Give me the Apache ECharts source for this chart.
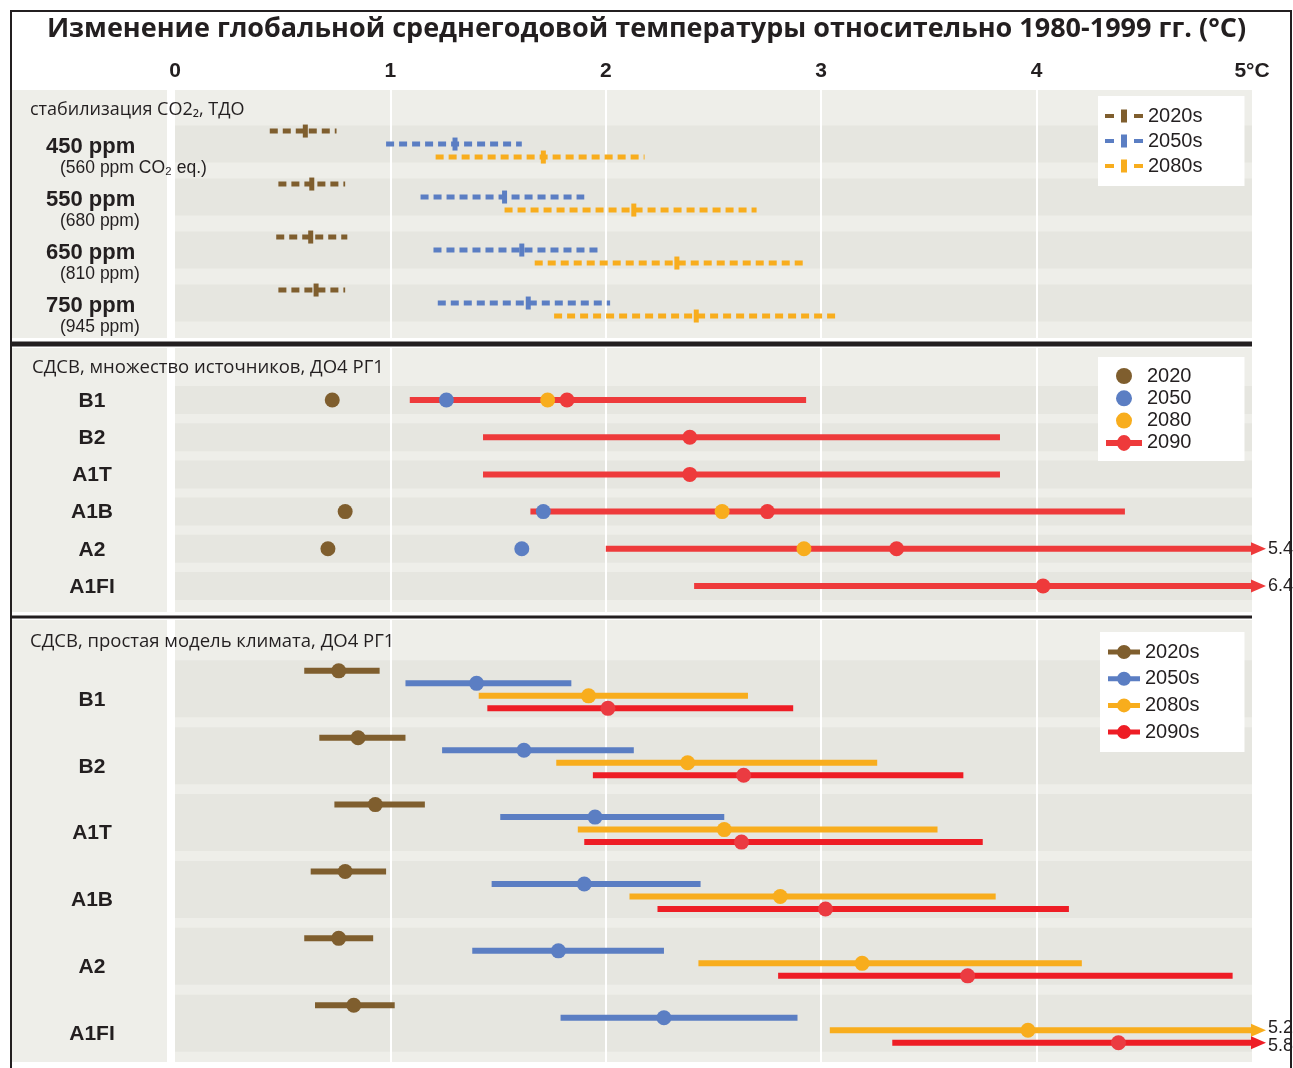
<!DOCTYPE html>
<html><head><meta charset="utf-8">
<script src="https://cdn.jsdelivr.net/npm/echarts@6/dist/echarts.min.js"></script>
<style>html,body{margin:0;padding:0;background:#fff}#c{width:1293px;height:1068px}</style>
</head><body><div id="c"></div>
<script>
// ================= DATA =================
const titleText = 'Изменение глобальной среднегодовой температуры относительно 1980-1999 гг. (°C)';
const xTickLabels = ['0', '1', '2', '3', '4', '5°C'];
const sectionTitles = ['стабилизация CO2₂, ТДО', 'СДСВ, множество источников, ДО4 РГ1', 'СДСВ, простая модель климата, ДО4 РГ1'];

// Section 1: stabilisation scenarios  [low, best, high]
const stabRows = ['450 ppm', '550 ppm', '650 ppm', '750 ppm'];
const stabSubs = ['(560 ppm CO₂ eq.)', '(680 ppm)', '(810 ppm)', '(945 ppm)'];
const stabNames = ['2020s', '2050s', '2080s'];
const stab2020s = [[0.44, 0.605, 0.75], [0.48, 0.635, 0.79], [0.47, 0.63, 0.80], [0.48, 0.655, 0.79]];
const stab2050s = [[0.98, 1.30, 1.61], [1.14, 1.53, 1.90], [1.20, 1.61, 1.98], [1.22, 1.64, 2.02]];
const stab2080s = [[1.21, 1.71, 2.18], [1.53, 2.13, 2.70], [1.67, 2.33, 2.93], [1.76, 2.42, 3.07]];

// Section 2: SRES, multi-model (AR4 WG1)
const multiRows = ['B1', 'B2', 'A1T', 'A1B', 'A2', 'A1FI'];
const multiNames = ['2020', '2050', '2080', '2090'];
const multi2020 = [0.73, null, null, 0.79, 0.71, null];
const multi2050 = [1.26, null, null, 1.71, 1.61, null];
const multi2080 = [1.73, null, null, 2.54, 2.92, null];
const multi2090 = [[1.09, 1.82, 2.93], [1.43, 2.39, 3.83], [1.43, 2.39, 3.83], [1.65, 2.75, 4.41], [2.00, 3.35, 5.4], [2.41, 4.03, 6.4]];

// Section 3: SRES, simple climate model (AR4 WG1)
const simpleRows = ['B1', 'B2', 'A1T', 'A1B', 'A2', 'A1FI'];
const simpleNames = ['2020s', '2050s', '2080s', '2090s'];
const simple2020s = [[0.60, 0.76, 0.95], [0.67, 0.85, 1.07], [0.74, 0.93, 1.16], [0.63, 0.79, 0.98], [0.60, 0.76, 0.92], [0.65, 0.83, 1.02]];
const simple2050s = [[1.07, 1.40, 1.84], [1.24, 1.62, 2.13], [1.51, 1.95, 2.55], [1.47, 1.90, 2.44], [1.38, 1.78, 2.27], [1.79, 2.27, 2.89]];
const simple2080s = [[1.41, 1.92, 2.66], [1.77, 2.38, 3.26], [1.87, 2.55, 3.54], [2.11, 2.81, 3.81], [2.43, 3.19, 4.21], [3.04, 3.96, 5.2]];
const simple2090s = [[1.45, 2.01, 2.87], [1.94, 2.64, 3.66], [1.90, 2.63, 3.75], [2.24, 3.02, 4.15], [2.80, 3.68, 4.91], [3.33, 4.38, 5.8]];

// ================= STYLE =================
const C = {brown: '#7f5e2e', blue: '#5b7ec3', orange: '#f8ad1d', red2: '#ee3a3b', red3: '#ee1d25', red3dot: '#eb3b41',
  ink: '#231f20', light: '#eeeee9', dark: '#e6e6e0'};
const XMAX = 5;
const FONT_B = '"Liberation Sans", Arial, sans-serif';
const FONT_T = '"Open Sans", "Noto Sans", sans-serif';

function rangeSeries(o) {
  return {
    type: 'custom', name: o.name, xAxisIndex: o.g, yAxisIndex: o.g, z: 5, silent: true,
    itemStyle: {color: o.color}, encode: {x: [1, 2, 3], y: 0},
    data: o.data,
    renderItem: function (params, api) {
      const row = api.value(0), lo = api.value(1), mid = api.value(2), hi = api.value(3);
      const cy = api.coord([0, row])[1] + o.dy;
      const ch = [];
      const ok = v => v != null && !isNaN(v);
      if (ok(lo) && ok(hi)) {
        const x0 = api.coord([lo, row])[0];
        const x1 = api.coord([Math.min(hi, XMAX), row])[0];
        ch.push({type: 'line', shape: {x1: x0, y1: cy, x2: x1, y2: cy},
          style: {stroke: o.color, lineWidth: o.lw, lineDash: o.dash || null}});
        if (hi > XMAX) {
          ch.push({type: 'polygon', shape: {points: [[x1 - 1, cy - 6.5], [x1 + 14, cy], [x1 - 1, cy + 6.5]]}, style: {fill: o.color}});
          ch.push({type: 'text', x: x1 + 16, y: cy + (o.labelDy || 0),
            style: {text: String(hi), fill: C.ink, font: '18px ' + FONT_B, align: 'left', verticalAlign: 'middle'}});
        }
      }
      if (ok(mid)) {
        const xm = api.coord([mid, row])[0];
        if (o.marker === 'bar') ch.push({type: 'rect', shape: {x: xm - 2.5, y: cy - 6.5, width: 5, height: 13}, style: {fill: o.color}});
        else ch.push({type: 'circle', shape: {cx: xm, cy: cy, r: 7.5}, style: {fill: o.dotColor || o.color}});
      }
      return {type: 'group', children: ch};
    }
  };
}
function toRows(arr) { return arr.map((d, i) => [i, d[0], d[1], d[2]]); }
function toDots(arr) { return arr.map((v, i) => [i, null, v, null]).filter(d => d[2] != null); }

function bandSeries(g, n, half) {
  const data = [];
  for (let i = 0; i < n; i++) data.push([0, i]);
  return {type: 'custom', xAxisIndex: g, yAxisIndex: g, z: 1, silent: true, encode: {x: 0, y: 1}, data: data,
    renderItem: function (params, api) {
      const cy = api.coord([0, api.value(1)])[1];
      const cs = params.coordSys;
      return {type: 'rect', shape: {x: cs.x, y: cy - half, width: cs.width, height: half * 2}, style: {fill: C.dark}};
    }};
}
function labelSeries(g, names, subs, opts) {
  return {type: 'custom', xAxisIndex: g, yAxisIndex: g, z: 6, silent: true, encode: {x: 0, y: 1},
    data: names.map((n, i) => [0, i]),
    renderItem: function (params, api) {
      const cy = api.coord([0, api.value(1)])[1];
      const i = params.dataIndex;
      const ch = [{type: 'text', x: opts.x, y: cy + opts.dy,
        style: {text: names[i], fill: C.ink, font: 'bold ' + opts.size + 'px ' + FONT_B, align: opts.align, verticalAlign: 'middle'}}];
      if (subs) ch.push({type: 'text', x: opts.x + 14, y: cy + opts.dy + 22,
        style: {text: subs[i], fill: C.ink, font: '17.5px ' + FONT_B, align: 'left', verticalAlign: 'middle'}});
      return {type: 'group', children: ch};
    }};
}

const grids = [
  {left: 175, right: 41, top: 90, height: 248, ymin: -1.02, ymax: 3.66},
  {left: 175, right: 41, top: 348, height: 264, ymin: -1.40, ymax: 5.70},
  {left: 175, right: 41, top: 620, height: 442, ymin: -1.03, ymax: 5.58}
];

const series = [
  bandSeries(0, stabRows.length, 18.5), bandSeries(1, multiRows.length, 14), bandSeries(2, simpleRows.length, 28.5),
  labelSeries(0, stabRows, stabSubs, {x: 46, dy: 2.5, align: 'left', size: 22}),
  labelSeries(1, multiRows, null, {x: 92, dy: 1, align: 'center', size: 21}),
  labelSeries(2, simpleRows, null, {x: 92, dy: 11, align: 'center', size: 21}),
  // section 1
  rangeSeries({name: stabNames[0], g: 0, data: toRows(stab2020s), color: C.brown, lw: 5, dash: [8, 5], marker: 'bar', dy: -13}),
  rangeSeries({name: stabNames[1], g: 0, data: toRows(stab2050s), color: C.blue, lw: 5, dash: [8, 5], marker: 'bar', dy: 0}),
  rangeSeries({name: stabNames[2], g: 0, data: toRows(stab2080s), color: C.orange, lw: 5, dash: [8, 5], marker: 'bar', dy: 13}),
  // section 2
  rangeSeries({name: multiNames[3], g: 1, data: toRows(multi2090), color: C.red2, lw: 6, marker: 'dot', dy: 0}),
  rangeSeries({name: multiNames[0], g: 1, data: toDots(multi2020), color: C.brown, lw: 6, marker: 'dot', dy: 0}),
  rangeSeries({name: multiNames[1], g: 1, data: toDots(multi2050), color: C.blue, lw: 6, marker: 'dot', dy: 0}),
  rangeSeries({name: multiNames[2], g: 1, data: toDots(multi2080), color: C.orange, lw: 6, marker: 'dot', dy: 0}),
  // section 3
  rangeSeries({name: simpleNames[0], g: 2, data: toRows(simple2020s), color: C.brown, lw: 6, marker: 'dot', dy: -18}),
  rangeSeries({name: simpleNames[1], g: 2, data: toRows(simple2050s), color: C.blue, lw: 6, marker: 'dot', dy: -5.5}),
  rangeSeries({name: simpleNames[2], g: 2, data: toRows(simple2080s), color: C.orange, lw: 6, marker: 'dot', dy: 7, labelDy: -2}),
  rangeSeries({name: simpleNames[3], g: 2, data: toRows(simple2090s), color: C.red3, dotColor: C.red3dot, lw: 6, marker: 'dot', dy: 19.5, labelDy: 3})
];

const dashIcon = 'path://M0 4.5H9V8.5H0Z M16 0H22V13H16Z M29 4.5H38V8.5H29Z';
const lineDot16 = 'path://M0 5H36V11H0Z M11 8A7 8 0 1 1 25 8A7 8 0 1 1 11 8Z';
const lineDot14 = 'path://M0 4.5H32V9.5H0Z M9 7A7 7 0 1 1 23 7A7 7 0 1 1 9 7Z';
const legTxt = {fontSize: 20, color: C.ink, fontFamily: FONT_B};

const option = {
  animation: false,
  backgroundColor: '#fff',
  title: {text: titleText, left: 'center', top: 16, padding: 0,
    textStyle: {fontSize: 27, fontWeight: 'bold', color: C.ink, fontFamily: FONT_T}},
  grid: grids.map(g => ({left: g.left, right: g.right, top: g.top, height: g.height, show: true, backgroundColor: C.light, borderWidth: 0})),
  xAxis: grids.map((g, i) => ({type: 'value', gridIndex: i, min: 0, max: XMAX, interval: 1, position: 'top', z: 3,
    axisLine: {show: false}, axisTick: {show: false},
    axisLabel: {show: i === 0, margin: 8, formatter: v => xTickLabels[v], fontSize: 21, fontWeight: 'bold', color: C.ink, fontFamily: FONT_B},
    splitLine: {show: true, showMinLine: false, showMaxLine: false, lineStyle: {color: '#ffffff', width: 2}}})),
  yAxis: grids.map((g, i) => ({type: 'value', gridIndex: i, inverse: true, min: g.ymin, max: g.ymax, show: false})),
  legend: [
    {left: 1098, top: 96, orient: 'vertical', backgroundColor: '#fff', padding: [10, 42, 10, 7], itemGap: 5,
      itemWidth: 38, itemHeight: 13, textStyle: legTxt, selectedMode: false,
      data: stabNames.map(n => ({name: n, icon: dashIcon}))},
    {left: 1098, top: 357, orient: 'vertical', backgroundColor: '#fff', padding: [9, 53, 8, 8], itemGap: 2.3,
      itemWidth: 36, itemHeight: 16, textStyle: legTxt, selectedMode: false,
      data: multiNames.map((n, i) => ({name: n, icon: i < 3 ? 'circle' : lineDot16}))},
    {left: 1100, top: 632, orient: 'vertical', backgroundColor: '#fff', padding: [10, 45, 10, 8], itemGap: 6.7,
      itemWidth: 32, itemHeight: 14, textStyle: legTxt, selectedMode: false,
      data: simpleNames.map(n => ({name: n, icon: lineDot14}))}
  ],
  graphic: [
    // outer frame
    {type: 'rect', shape: {x: 10, y: 10, width: 2, height: 1058}, style: {fill: C.ink}, z: 20},
    {type: 'rect', shape: {x: 10, y: 10, width: 1282, height: 2}, style: {fill: C.ink}, z: 20},
    {type: 'rect', shape: {x: 1290, y: 10, width: 2, height: 1058}, style: {fill: C.ink}, z: 20},
    // left label panels
    {type: 'rect', shape: {x: 12, y: 90, width: 155, height: 248}, style: {fill: C.light}, z: -1},
    {type: 'rect', shape: {x: 12, y: 348, width: 155, height: 264}, style: {fill: C.light}, z: -1},
    {type: 'rect', shape: {x: 12, y: 620, width: 155, height: 442}, style: {fill: C.light}, z: -1},
    // separators
    {type: 'rect', shape: {x: 11, y: 341.5, width: 1241, height: 5}, style: {fill: C.ink}, z: 20},
    {type: 'rect', shape: {x: 11, y: 615.5, width: 1241, height: 3}, style: {fill: C.ink}, z: 20},
    // section titles
    {type: 'text', x: 30, y: 110, style: {text: sectionTitles[0], fill: C.ink, font: '18px ' + FONT_T, verticalAlign: 'middle'}, z: 20},
    {type: 'text', x: 32, y: 368, style: {text: sectionTitles[1], fill: C.ink, font: '18.5px ' + FONT_T, verticalAlign: 'middle'}, z: 20},
    {type: 'text', x: 30, y: 642, style: {text: sectionTitles[2], fill: C.ink, font: '18.5px ' + FONT_T, verticalAlign: 'middle'}, z: 20}
  ],
  series: series
};
const chart = echarts.init(document.getElementById('c'), null, {renderer: 'canvas'});
chart.setOption(option);
</script></body></html>
